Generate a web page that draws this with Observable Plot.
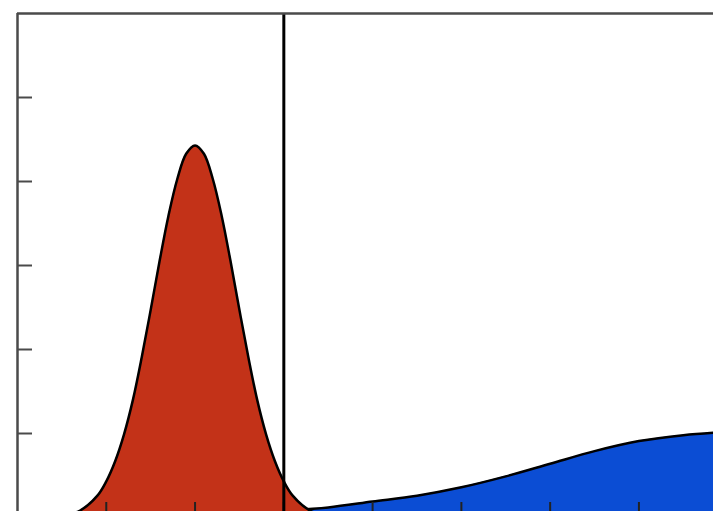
<!DOCTYPE html>
<html>
<head>
<meta charset="utf-8">
<script src="https://cdn.jsdelivr.net/npm/d3@7"></script>
<script src="https://cdn.jsdelivr.net/npm/@observablehq/plot@0.6"></script>
<style>
  html, body { margin: 0; padding: 0; background: #fff; overflow: hidden; }
  #chart svg { display: block; }
</style>
</head>
<body>
<div id="chart"></div>
<script>
// Red (narrow) distribution: x position and density
const redX = [0.3, 0.5, 0.7, 0.9, 1.0, 1.1, 1.2, 1.3, 1.4, 1.5, 1.6, 1.7, 1.8, 1.9, 2.0, 2.1, 2.2, 2.3, 2.4, 2.5, 2.6, 2.7, 2.8, 2.9, 3.0, 3.1, 3.3, 3.5, 3.7];
const redY = [0.0, 0.02, 0.08, 0.26, 0.43, 0.67, 0.99, 1.40, 1.91, 2.47, 3.05, 3.59, 4.03, 4.33, 4.43, 4.33, 4.03, 3.59, 3.05, 2.47, 1.91, 1.40, 0.99, 0.67, 0.43, 0.26, 0.08, 0.02, 0.0];

// Blue (broad) distribution
const blueX = [2.5, 3.0, 3.5, 4.0, 4.5, 5.0, 5.5, 6.0, 6.5, 7.0, 7.5, 8.0];
const blueY = [0.05, 0.08, 0.12, 0.19, 0.26, 0.36, 0.49, 0.64, 0.79, 0.91, 0.98, 1.02];

// Threshold line and tick positions
const threshold = [3];
const xTicks = [1, 2, 3, 4, 5, 6, 7];
const yTicks = [1, 2, 3, 4, 5];

const red = redX.map((x, i) => ({x, y: redY[i]}));
const blue = blueX.map((x, i) => ({x, y: blueY[i]}));

const frameColor = "#4a4a4a";

const chart = Plot.plot({
  width: 713,
  height: 511,
  marginLeft: 17,
  marginTop: 13,
  marginRight: 0,
  marginBottom: 0,
  x: {domain: [0, 7.84], axis: null},
  y: {domain: [6 / 84 , 6], axis: null},
  marks: [
    Plot.areaY(blue, {x: "x", y: "y", fill: "#0b4dd4", curve: "catmull-rom", clip: true}),
    Plot.lineY(blue, {x: "x", y: "y", stroke: "#000", strokeWidth: 2.5, curve: "catmull-rom", clip: true}),
    Plot.areaY(red, {x: "x", y: "y", fill: "#c33218", curve: "catmull-rom", clip: true}),
    Plot.lineY(red, {x: "x", y: "y", stroke: "#000", strokeWidth: 2.5, curve: "catmull-rom", clip: true}),
    Plot.ruleX(xTicks, {x: d => d, y1: 0, y2: 15 / 84, stroke: "#222", strokeWidth: 2, clip: true}),
    Plot.ruleY(yTicks, {y: d => d, x1: 0, x2: 15 / 88.8, stroke: frameColor, strokeWidth: 2}),
    Plot.ruleX(threshold, {x: d => d, y1: 0, y2: 6, stroke: "#000", strokeWidth: 3, clip: true}),
    Plot.ruleY([6], {stroke: frameColor, strokeWidth: 2.5}),
    Plot.ruleX([0], {stroke: frameColor, strokeWidth: 2.5})
  ]
});
document.getElementById("chart").appendChild(chart);
</script>
</body>
</html>
